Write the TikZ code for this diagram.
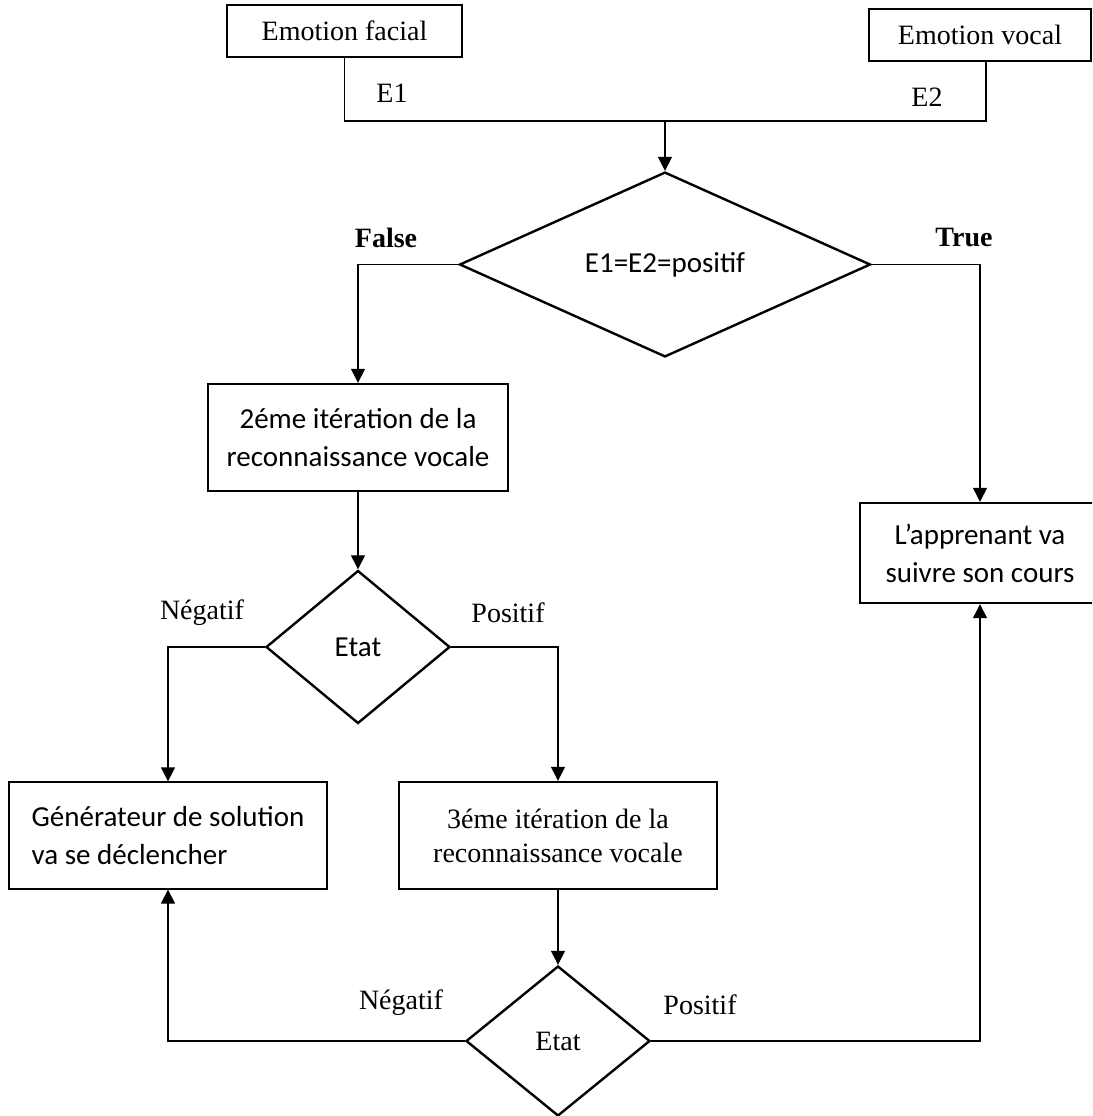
\documentclass[tikz,border=0pt]{standalone}
\usepackage{fontspec}
\setmainfont{Liberation Serif}
\newfontfamily\calfont{Carlito}
\usetikzlibrary{shapes.geometric,arrows.meta}
\begin{document}
\begin{tikzpicture}[x=1pt,y=-1pt,
  thinbox/.style={draw,line width=1.3pt,rectangle,inner sep=0pt},
  thickbox/.style={draw,line width=2.4pt,rectangle,inner sep=0pt},
  cond/.style={draw,line width=2.4pt,diamond,inner sep=0pt},
  link/.style={line width=1.3pt},
  arr/.style={link,-{Triangle[length=14pt,width=14pt]}},
  serif/.style={font=\fontsize{28}{34}\selectfont},
  sans/.style={font=\calfont\fontsize{29}{38}\selectfont},
  lbl/.style={serif,inner sep=0pt},
  boldlbl/.style={inner sep=0pt,font=\bfseries\fontsize{28}{34}\selectfont},
]
\useasboundingbox (0,0) rectangle (1092,1116);
\clip (0,0) rectangle (1092,1116);

% inputs
\node[thinbox,serif,minimum width=235pt,minimum height=52pt] (ef) at (344.5,31) {Emotion facial};
\node[thinbox,serif,minimum width=222pt,minimum height=52pt] (ev) at (980,35) {Emotion vocal};
\node[lbl] (e1) at (392,93) {E1};
\node[lbl] (e2) at (927,97) {E2};
\coordinate (mr) at (986,121);
\draw[link] (ef.south) |- (mr) -- (mr |- ev.south);

% first test
\node[cond,sans,minimum width=411pt,minimum height=139pt] (d1) at (665,264.5) {\raisebox{-4pt}{E1=E2=positif}};
\draw[arr] (d1.north |- mr) -- (d1.north);
\node[boldlbl] (lfalse) at (386,238) {False};
\node[boldlbl] (ltrue) at (964,238) {True};

% boxes
\node[thickbox,sans,align=center,minimum width=300pt,minimum height=107pt] (b2) at (358,437.5) {2éme itération de la\\reconnaissance vocale};
\node[thickbox,sans,align=center,minimum width=240pt,minimum height=100pt] (ba) at (980,553) {L’apprenant va\\suivre son cours};
\node[cond,sans,minimum width=184pt,minimum height=153pt] (d2) at (358,647) {Etat};
\node[thinbox,sans,align=left,minimum width=318pt,minimum height=107pt] (bg) at (168,835.5) {Générateur de solution\\va se déclencher};
\node[thickbox,serif,align=center,minimum width=318pt,minimum height=107pt] (b3) at (558,835.5) {3éme itération de la\\reconnaissance vocale};
\node[cond,serif,minimum width=184pt,minimum height=150pt] (d3) at (558,1041) {Etat};

% branch labels
\node[lbl] (ln1) at (202,613) {Négatif};
\node[lbl] (lp1) at (508,613) {Positif};
\node[lbl] (ln2) at (401,1003) {Négatif};
\node[lbl] (lp2) at (700,1005) {Positif};

% connectors
\draw[arr] (d1.west) -| (b2.north);
\draw[arr] (d1.east) -| (ba.north);
\draw[arr] (b2.south) -- (d2.north);
\draw[arr] (d2.west) -| (bg.north);
\draw[arr] (d2.east) -| (b3.north);
\draw[arr] (b3.south) -- (d3.north);
\draw[arr] (d3.west) -| (bg.south);
\draw[arr] (d3.east) -| (ba.south);
\end{tikzpicture}
\end{document}
